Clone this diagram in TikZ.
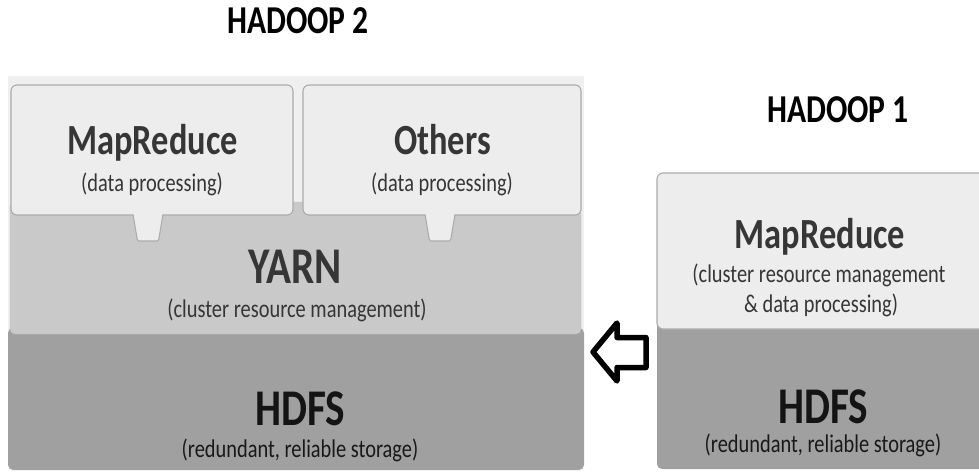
\documentclass[tikz,border=0pt]{standalone}
\usepackage{fontspec}
\setmainfont{Carlito}[FakeStretch=0.8]
\usepackage{tikz}

\definecolor{pale}{HTML}{EDEDED}
\definecolor{backg}{HTML}{EFEFEF}
\definecolor{yarngray}{HTML}{C9C9C9}
\definecolor{hdfsgray}{HTML}{A0A0A0}
\definecolor{edge}{HTML}{ABABAB}
\definecolor{ink}{HTML}{363636}

\begin{document}
\begin{tikzpicture}[x=1pt, y=-1pt,
    slab/.style={rounded corners=5pt, inner sep=0pt},
    upbox/.style={slab, draw=edge, fill=pale, line width=1.1pt, rounded corners=6pt},
    apptab/.style={fill=pale, draw=edge, line width=1.1pt, rounded corners=1.5pt},
    hadtitle/.style={anchor=base, font=\fontsize{39.5}{44}\selectfont\bfseries, text=black},
    boxname/.style={anchor=base, font=\fontsize{43}{48}\selectfont\bfseries, text=ink},
    bigname/.style={anchor=base, font=\fontsize{51.5}{56}\selectfont\bfseries, text=ink},
    subtext/.style={anchor=base, font=\fontsize{25.5}{30}\selectfont, text=ink}]
      \useasboundingbox (0,0) rectangle (979,473);
      \clip (0,0) rectangle (979,473);

      % Hadoop 2
      \node[hadtitle]       (h2) at (298,34) {HADOOP 2};
      \fill[backg]          (8,76) rectangle (584,336);
      \node[slab, fill=hdfsgray, minimum width=576, minimum height=142] (hdfs2) at (296,399) {};
      \node[slab, fill=yarngray, draw=yarngray!95!black, minimum width=571, minimum height=132] (yarn2) at (295.5,268) {};
      \foreach \cx/\bw/\lbl/\tx [count=\i] in {152/282/MapReduce/148, 442/278/Others/440} {
        \node[upbox, minimum width=\bw, minimum height=130] (app\i) at (\cx,150) {};
        \fill[pale]         (\tx-15,212) rectangle (\tx+15,216);
        \draw[apptab]       (\tx-15,214.5) -- (\tx-10.5,241) -- (\tx+10.5,241) -- (\tx+15,214.5);
        \node[boxname]      (n\i) at (\cx+0.5,155) {\lbl};
        \node[subtext]      (s\i) at (\cx,192) {(data processing)};
      }
      \node[bigname]        (yarn) at (295.5,283) {YARN};
      \node[subtext]        (yarnsub) at (297,317) {(cluster resource management)};
      \node[bigname, text=black!92] (hdfs) at (300,425) {HDFS};
      \node[subtext, text=black!90] (hdfssub) at (300,457) {(redundant, reliable storage)};

      % Hadoop 1
      \node[hadtitle]       (h1) at (838,123) {HADOOP 1};
      \node[slab, fill=hdfsgray, minimum width=340, minimum height=170] (hdfs1) at (827,384) {};
      \node[upbox, minimum width=340, minimum height=156] (mr1) at (827,251) {};
      \node[boxname]        (mr) at (820,248) {MapReduce};
      \node[subtext]        (mrsub1) at (819,282) {(cluster resource management};
      \node[subtext]        (mrsub2) at (821,312) {\& data processing)};
      \node[bigname, text=black!92] (hdfsb) at (823,423) {HDFS};
      \node[subtext, text=black!90] (hdfsbsub) at (823,452) {(redundant, reliable storage)};

      % hollow arrow
      \draw[line width=5.5pt, line join=round] (593,352) -- (617,323) -- (617,337.5) -- (646,337.5)
            -- (646,367.5) -- (617,367.5) -- (617,381) -- cycle;
    \end{tikzpicture}
\end{document}
